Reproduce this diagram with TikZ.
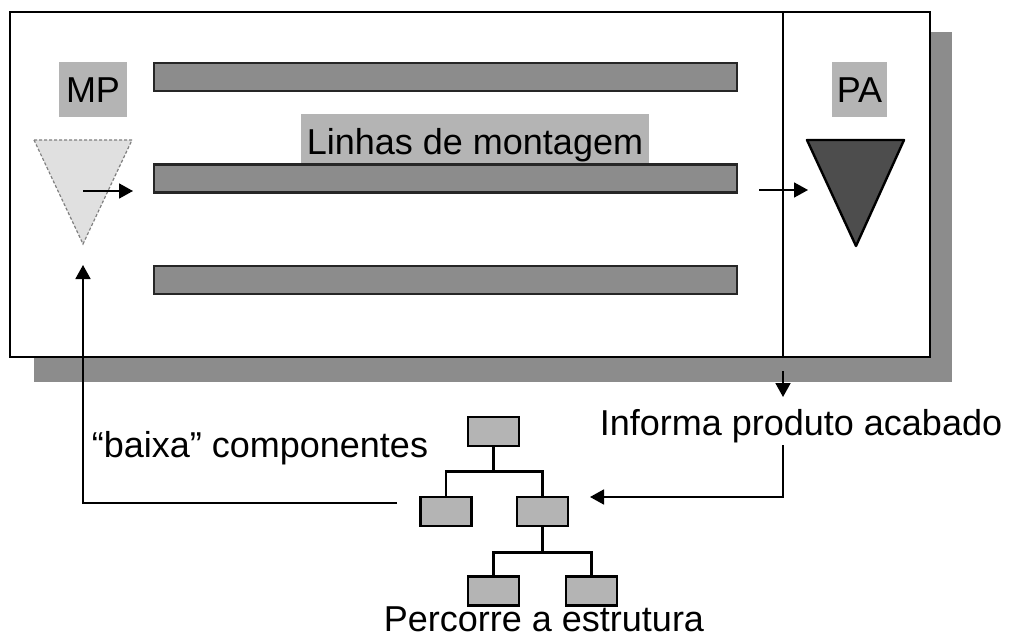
\documentclass[tikz,border=0pt]{standalone}
\usepackage{fontspec}
\setmainfont{Liberation Sans}
\usetikzlibrary{arrows.meta}
\definecolor{bargray}{HTML}{8C8C8C}
\definecolor{lblgray}{HTML}{B4B4B4}
\definecolor{mpgray}{HTML}{E0E0E0}
\definecolor{pagray}{HTML}{4D4D4D}
\begin{document}
\begin{tikzpicture}[x=1pt,y=-1pt,
  txt/.style={inner sep=0pt, font=\fontsize{36}{42}\selectfont},
  bar/.style={draw=black!85, line width=2.2pt, fill=bargray, minimum width=583pt, minimum height=28pt, inner sep=0pt},
  lbl/.style={fill=lblgray, inner sep=0pt, font=\fontsize{36}{42}\selectfont},
  tbox/.style={draw=black, line width=2.6pt, fill=lblgray, minimum width=51pt, minimum height=29pt, inner sep=0pt},
  arr/.style={draw=black, line width=1.8pt, -{Triangle[length=14pt,width=15pt]}},
  tline/.style={draw=black, line width=2.6pt}]
\useasboundingbox (0,0) rectangle (1014,639);
% shadow and main frame
\fill[bargray] (34,32) rectangle (952,382);
\node[draw=black, line width=2.6pt, fill=white, minimum width=920pt, minimum height=345pt, inner sep=0pt] (frame) at (470,184.5) {};
\draw[line width=2.6pt] (783,12) coordinate (divtop) -- (783,357) coordinate (divbot);
% assembly lines
\node[bar] (bar1) at (445.5,77) {};
\node[bar] (bar2) at (445.5,178.5) {};
\node[bar] (bar3) at (445.5,280) {};
\node[lbl, minimum width=348pt, text height=41pt, text depth=8pt, anchor=base] (linhas) at (475,155) {Linhas de montagem};
% MP
\node[lbl, minimum width=68pt, text height=41pt, text depth=14pt, anchor=base] (mp) at (93,103) {MP};
\draw[densely dashed, draw=gray, line width=1.2pt, fill=mpgray] (34,140) -- (132,140) -- (83,244) -- cycle;
\coordinate (mpout) at (83,191);
\coordinate (mpin) at (133,191);
\draw[arr] (mpout) -- (mpin);
% PA
\node[lbl, minimum width=55pt, text height=41pt, text depth=14pt, anchor=base] (pa) at (859.5,103) {PA};
\draw[draw=black, line width=2.4pt, line join=round, fill=pagray] (807,140) -- (904,140) -- (856,246) -- cycle;
\coordinate (paout) at (759,190);
\coordinate (pain) at (808,190);
\draw[arr] (paout) -- (pain);
% info arrow
\coordinate (dstart) at (783,371);
\coordinate (dend) at (783,397);
\draw[arr] (dstart) -- (dend);
\node[txt, anchor=base] (info) at (801,435) {Informa produto acabado};
\coordinate (infoline) at (783,445);
\coordinate (treein) at (590,497);
\draw[arr] (infoline) |- (treein);
% tree
\node[tbox] (root) at (493.5,431.5) {};
\node[tbox] (ml) at (446,511.5) {};
\node[tbox] (mr) at (542.5,511.5) {};
\node[tbox] (bl) at (493.5,591) {};
\node[tbox] (br) at (591.5,591) {};
\draw[tline] (root.south) -- ++(0,24) -| (ml.north);
\draw[tline] (root.south) -- ++(0,24) -| (mr.north);
\draw[tline] (mr.south) -- ++(0,25) -| (bl.north);
\draw[tline] (mr.south) -- ++(0,25) -| (br.north);
\node[txt, anchor=base] (perc) at (544,631) {Percorre a estrutura};
% baixa
\node[txt, anchor=base] (baixa) at (260,457) {“baixa” componentes};
\coordinate (bstart) at (397,503);
\coordinate (mpup) at (83,265);
\draw[arr] (bstart) -| (mpup);
\end{tikzpicture}
\end{document}
